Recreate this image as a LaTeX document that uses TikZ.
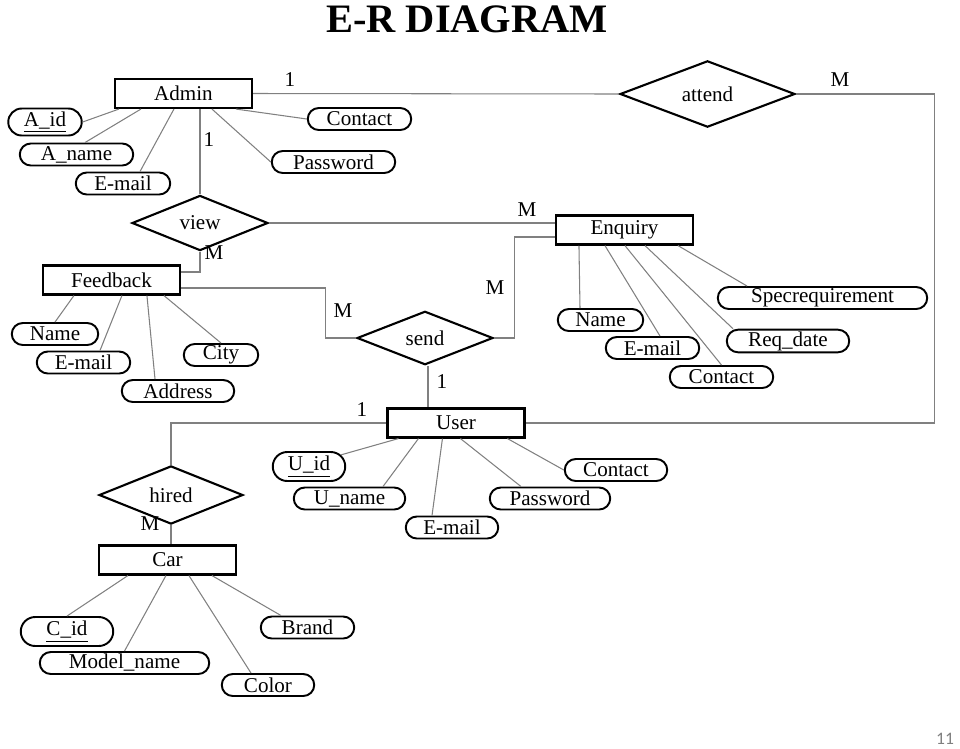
\documentclass[tikz,border=0pt]{standalone}
\usepackage{fontspec}
\setmainfont{Liberation Serif}
\newfontfamily\pagefont{Carlito}
\usetikzlibrary{shapes.geometric,shapes.misc}

\begin{document}
\begin{tikzpicture}[
  x=0.02cm, y=-0.02cm,
  font=\fontsize{12}{14}\selectfont,
  entity/.style={rectangle,draw,line width=1.2pt,minimum width=2.74cm,minimum height=0.58cm,inner sep=1pt},
  relation/.style={diamond,draw,line width=1.2pt,inner sep=0pt,minimum width=2.72cm,minimum height=0.84cm},
  attr/.style={rounded rectangle,draw,line width=1.1pt,minimum height=0.44cm,inner sep=1pt},
  link/.style={draw=gray,line width=0.6pt},
  card/.style={inner sep=0pt}
]
\useasboundingbox (0,0) rectangle (960,748);

% Title
\node[font=\bfseries\fontsize{23}{27}\selectfont] (title) at (467,19) {E-R DIAGRAM};

% ===== ENTITIES =====
\node[entity] (admin) at (183.5,93.5) {Admin};
\node[entity] (enquiry) at (624.5,230) {Enquiry};
\node[entity] (feedback) at (111.5,280) {Feedback};
\node[entity] (user) at (456,423) {User};
\node[entity] (car) at (167.5,560) {Car};

% ===== RELATIONSHIPS =====
\node[relation] (view) at (200,223) {view};
\node[relation,minimum width=3.5cm,minimum height=0.88cm] (attend) at (707.5,94) {attend};
\node[relation,minimum height=0.86cm] (send) at (425,338) {send};
\node[relation,minimum width=2.88cm,minimum height=0.88cm] (hired) at (171,495) {hired};

% ===== ATTRIBUTES =====
% Admin
\node[attr,minimum width=1.54cm,minimum height=0.54cm] (a_id) at (45,122) {\underline{A\_id}};
\node[attr,minimum width=2.34cm] (a_name) at (76.5,154.5) {A\_name};
\node[attr,minimum width=1.96cm] (a_mail) at (123,183.5) {E-mail};
\node[attr,minimum width=2.14cm] (a_contact) at (359.5,119) {Contact};
\node[attr,minimum width=2.54cm] (a_pass) at (333.5,162) {Password};

% Feedback
\node[attr,minimum width=1.8cm] (f_name) at (55,334) {Name};
\node[attr,minimum width=1.94cm] (f_mail) at (83.5,362.5) {E-mail};
\node[attr,minimum width=2.32cm] (f_addr) at (178,391) {Address};
\node[attr,minimum width=1.56cm] (f_city) at (221,355) {City};

% Enquiry
\node[attr,minimum width=1.78cm] (e_name) at (600.5,320) {Name};
\node[attr,minimum width=1.94cm] (e_mail) at (652.5,348) {E-mail};
\node[attr,minimum width=2.14cm] (e_contact) at (721.5,377) {Contact};
\node[attr,minimum width=2.52cm] (e_date) at (788,341) {Req\_date};
\node[attr,minimum width=4.26cm] (e_spec) at (822.5,298) {Specrequirement};

% User
\node[attr,minimum width=1.52cm,minimum height=0.58cm] (u_id) at (309,466.5) {\underline{U\_id}};
\node[attr,minimum width=2.3cm] (u_name) at (349.5,498.5) {U\_name};
\node[attr,minimum width=1.92cm] (u_mail) at (452,527.5) {E-mail};
\node[attr,minimum width=2.48cm] (u_pass) at (550,498.5) {Password};
\node[attr,minimum width=2.12cm] (u_contact) at (616,470) {Contact};

% Car
\node[attr,minimum width=1.92cm,minimum height=0.58cm] (c_id) at (67,631.5) {\underline{C\_id}};
\node[attr,minimum width=3.46cm] (c_model) at (124.5,663) {Model\_name};
\node[attr,minimum width=1.92cm] (c_color) at (268,685) {Color};
\node[attr,minimum width=1.94cm] (c_brand) at (307.5,627.5) {Brand};

% ===== RELATIONSHIP LINES =====
\draw[link] (admin.east) -- (attend.west);
\node[card] (c_aa) at (290,80) {1};
\draw[link] (attend.east) -- ++(138,0) |- (user.east);
\node[card] (c_au) at (840,80) {M};

\draw[link] (view.north |- admin.south) -- (view.north);
\node[card] (c_av) at (209,140) {1};
\draw[link] (view.south) |- ([yshift=0.16cm]feedback.east);
\node[card] (c_vf) at (214,253) {M};
\draw[link] (view.east) -- (enquiry.west |- view.east);
\node[card] (c_ve) at (527,210) {M};

\draw[link] ([yshift=-0.16cm]feedback.east) -- ++(144,0) |- (send.west);
\node[card] (c_fs) at (343,311) {M};
\draw[link] ([yshift=-0.14cm]enquiry.west) -- ++(-40,0) |- (send.east);
\node[card] (c_es) at (495,288) {M};
\draw[link] ([xshift=0.06cm]send.south) -- ([xshift=0.06cm]send.south |- user.north);
\node[card] (c_su) at (442,382) {1};

\draw[link] (user.west) -| (hired.north);
\node[card] (c_uh) at (362,410) {1};
\draw[link] (hired.south) -- (hired.south |- car.north);
\node[card] (c_hc) at (150,524) {M};

% ===== ATTRIBUTE LINES =====
\draw[link] ([xshift=0.1cm]admin.south west) -- (a_id.east);
\draw[link] ([xshift=0.54cm]admin.south west) -- ([xshift=0.17cm]a_name.north);
\draw[link] ([xshift=1.2cm]admin.south west) -- ([xshift=0.34cm]a_mail.north);
\draw[link] ([xshift=1.96cm]admin.south west) -- (a_pass.west);
\draw[link] ([xshift=2.44cm]admin.south west) -- (a_contact.west);

\draw[link] ([xshift=0.64cm]feedback.south west) -- (f_name.north);
\draw[link] ([xshift=1.6cm]feedback.south west) -- ([xshift=0.33cm]f_mail.north);
\draw[link] ([xshift=2.1cm]feedback.south west) -- ([xshift=-0.46cm]f_addr.north);
\draw[link] ([xshift=2.44cm]feedback.south west) -- (f_city.north);

\draw[link] ([xshift=0.48cm]enquiry.south west) -- ([xshift=-0.41cm]e_name.north);
\draw[link] ([xshift=1.0cm]enquiry.south west) -- ([xshift=0.15cm]e_mail.north);
\draw[link] ([xshift=1.4cm]enquiry.south west) -- (e_contact.north);
\draw[link] ([xshift=1.8cm]enquiry.south west) -- ([xshift=-1.1cm]e_date.north);
\draw[link] ([xshift=2.46cm]enquiry.south west) -- ([xshift=-1.51cm]e_spec.north);

\draw[link] ([xshift=0.24cm]user.south west) -- (u_id.20);
\draw[link] ([xshift=0.64cm]user.south west) -- ([xshift=0.67cm]u_name.north);
\draw[link] ([xshift=1.12cm]user.south west) -- ([xshift=-0.4cm]u_mail.north);
\draw[link] ([xshift=1.48cm]user.south west) -- ([xshift=-0.58cm]u_pass.north);
\draw[link] ([xshift=2.42cm]user.south west) -- (u_contact.west);

\draw[link] ([xshift=0.6cm]car.south west) -- (c_id.north);
\draw[link] ([xshift=1.36cm]car.south west) -- (c_model.north);
\draw[link] ([xshift=1.82cm]car.south west) -- ([xshift=-0.34cm]c_color.north);
\draw[link] ([xshift=2.28cm]car.south west) -- ([xshift=-0.53cm]c_brand.north);

% Page number
\node[font=\pagefont\fontsize{10}{12}\selectfont,text=gray] (pagenum) at (945,739) {11};

\end{tikzpicture}
\end{document}
